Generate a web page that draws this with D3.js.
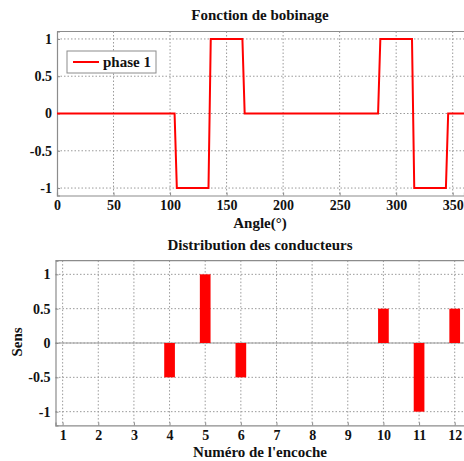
<!DOCTYPE html>
<html>
<head>
<meta charset="utf-8">
<script src="https://cdn.jsdelivr.net/npm/d3@7"></script>
<style>
  html, body { margin: 0; padding: 0; background: #fff; }
  svg { display: block; }
  text { font-family: "Liberation Serif", "Times New Roman", serif; font-weight: bold; fill: #111; }
</style>
</head>
<body>
<svg id="chart" width="464" height="461"></svg>
<script>
// ---- Data ----
const angleDeg   = [0, 104, 106, 134, 136, 164, 166, 284, 286, 314, 316, 344, 346, 360];
const phase1     = [0,   0,  -1,  -1,   1,   1,   0,   0,   1,   1,  -1,  -1,   0,   0];
const slots      = [1, 2, 3, 4, 5, 6, 7, 8, 9, 10, 11, 12];
const sens       = [0, 0, 0, -0.5, 1, -0.5, 0, 0, 0, 0.5, -1, 0.5];
const topXTicks  = [0, 50, 100, 150, 200, 250, 300, 350];
const yTicks     = [-1, -0.5, 0, 0.5, 1];
const yTickLabels = ["-1", "-0.5", "0", "0.5", "1"];

const svg = d3.select("#chart");
const gridColor = "#9a9a9a";
const axisColor = "#8c8c8c";
const red = "#ff0000";

function drawFrame(g, x, y, xTicks, yT, drawZero) {
  const [x0, x1] = x.range();
  const [y0, y1] = y.range(); // y0 bottom, y1 top
  // grid
  g.append("g").selectAll("line").data(xTicks.filter(t => x(t) > x0 + 1)).join("line")
    .attr("x1", d => x(d)).attr("x2", d => x(d)).attr("y1", y1).attr("y2", y0)
    .attr("stroke", gridColor).attr("stroke-width", 1).attr("stroke-dasharray", "1.5,2");
  g.append("g").selectAll("line").data(yT).join("line")
    .attr("x1", x0).attr("x2", x1).attr("y1", d => y(d)).attr("y2", d => y(d))
    .attr("stroke", gridColor).attr("stroke-width", 1).attr("stroke-dasharray", "1.5,2");
  if (drawZero) {
    g.append("line").attr("x1", x0).attr("x2", x1).attr("y1", y(0)).attr("y2", y(0))
      .attr("stroke", "#999").attr("stroke-width", 1.2);
  }
  // axes (ticks inward)
  const xa = g.append("g").attr("transform", `translate(0,${y0})`)
    .call(d3.axisBottom(x).tickValues(xTicks).tickSize(-3).tickPadding(4).tickFormat(d3.format("d")));
  const ya = g.append("g").attr("transform", `translate(${x0},0)`)
    .call(d3.axisLeft(y).tickValues(yT).tickSize(-3).tickPadding(5)
      .tickFormat(d => yTickLabels[yTicks.indexOf(d)]));
  [xa, ya].forEach(a => {
    a.select(".domain").attr("stroke", axisColor).attr("stroke-width", 1.2);
    a.selectAll(".tick line").attr("stroke", axisColor);
    a.selectAll(".tick text").style("font-size", "14px").attr("fill", "#111");
  });
  xa.selectAll(".tick text").attr("dy", "0.75em");
  // top border
  g.append("line").attr("x1", x0).attr("x2", x1).attr("y1", y1).attr("y2", y1)
    .attr("stroke", axisColor).attr("stroke-width", 1.2);
}

// ---- Top chart ----
const xTop = d3.scaleLinear().domain([0, 360]).range([57, 464]);
const yTop = d3.scaleLinear().domain([-1.1, 1.1]).range([195.5, 31.5]);
const gTop = svg.append("g");
drawFrame(gTop, xTop, yTop, topXTicks, yTicks, false);

const line = d3.line().x(d => xTop(d[0])).y(d => yTop(d[1]));
gTop.append("path").datum(angleDeg.map((a, i) => [a, phase1[i]]))
  .attr("d", line).attr("fill", "none").attr("stroke", red).attr("stroke-width", 2);

gTop.append("text").attr("x", 260).attr("y", 20).attr("text-anchor", "middle")
  .style("font-size", "15px").text("Fonction de bobinage");
gTop.append("text").attr("x", 260).attr("y", 228).attr("text-anchor", "middle")
  .style("font-size", "15px").text("Angle(°)");

// legend
const lg = gTop.append("g");
lg.append("rect").attr("x", 67).attr("y", 51).attr("width", 89).attr("height", 22)
  .attr("fill", "#fff").attr("stroke", "#8c8c8c").attr("stroke-width", 1);
lg.append("line").attr("x1", 73).attr("x2", 99).attr("y1", 62).attr("y2", 62)
  .attr("stroke", red).attr("stroke-width", 2);
lg.append("text").attr("x", 103).attr("y", 67).style("font-size", "15px").text("phase 1");

// ---- Bottom chart ----
const xBot = d3.scaleLinear().domain([0.8, 12.3]).range([55.5, 465.4]);
const yBot = d3.scaleLinear().domain([-1.2, 1.2]).range([425.4, 260.6]);
const gBot = svg.append("g");
drawFrame(gBot, xBot, yBot, slots, yTicks, true);

const barW = xBot(0.3) - xBot(0);
gBot.append("g").selectAll("rect").data(slots.map((s, i) => ({ s, v: sens[i] })).filter(d => d.v !== 0))
  .join("rect")
  .attr("x", d => xBot(d.s) - barW / 2)
  .attr("width", barW)
  .attr("y", d => yBot(Math.max(0, d.v)))
  .attr("height", d => Math.abs(yBot(d.v) - yBot(0)))
  .attr("fill", red);

gBot.append("text").attr("x", 260).attr("y", 250).attr("text-anchor", "middle")
  .style("font-size", "15px").text("Distribution des conducteurs");
gBot.append("text").attr("x", 260).attr("y", 457).attr("text-anchor", "middle")
  .style("font-size", "15px").text("Numéro de l'encoche");
gBot.append("text").attr("transform", "translate(22,342) rotate(-90)").attr("text-anchor", "middle")
  .style("font-size", "15px").text("Sens");
</script>
</body>
</html>
